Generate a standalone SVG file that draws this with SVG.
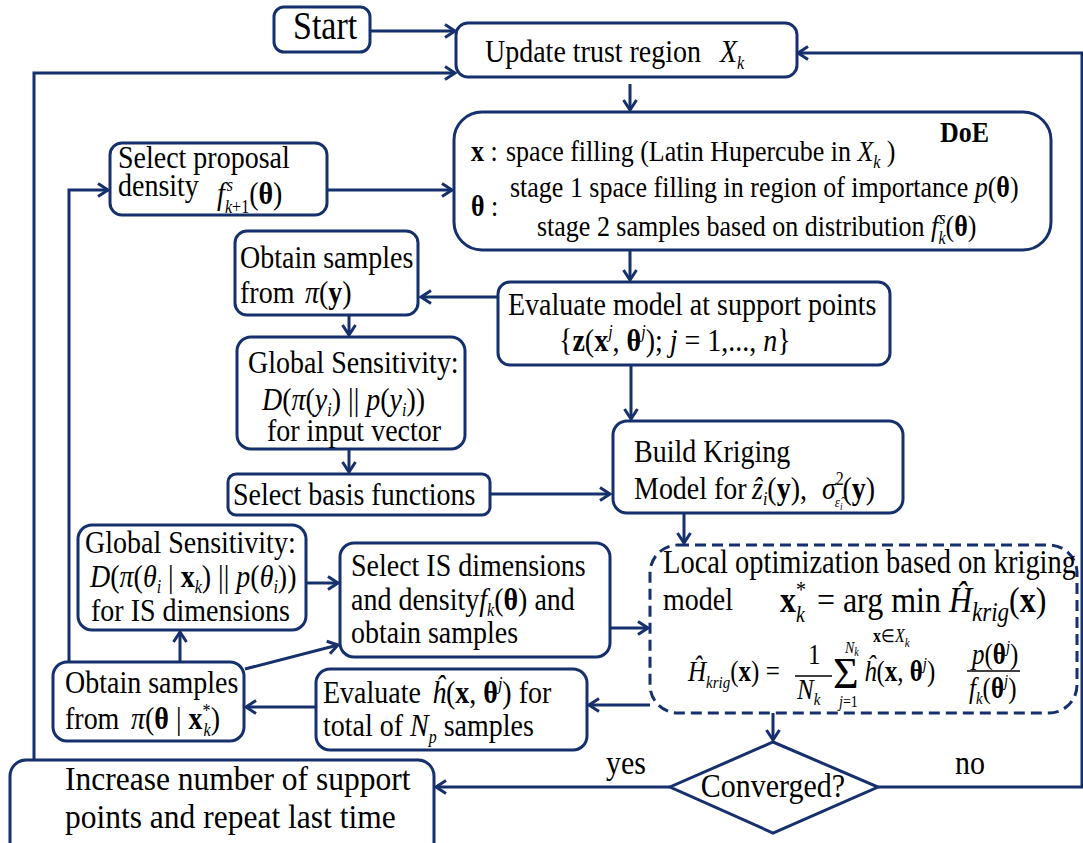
<svg xmlns="http://www.w3.org/2000/svg" width="1083" height="843" viewBox="0 0 1083 843">
<style>
.bx{fill:#fff;stroke:#15306d;stroke-width:3}
.cn{fill:none;stroke:#15306d;stroke-width:3}
text{font-family:"Liberation Serif","Times New Roman",serif;font-size:28px;fill:#000}
.i{font-style:italic}
.b{font-weight:bold}
.s{font-size:16px}
.d{font-size:26px}
</style>
<defs>
<marker id="ah" markerWidth="16" markerHeight="16" refX="13" refY="8" orient="auto" markerUnits="userSpaceOnUse">
<path d="M3,1.5 L13,8 L3,14.5" fill="none" stroke="#15306d" stroke-width="3"/>
</marker>
</defs>
<rect width="1083" height="843" fill="#fff"/>
<g id="connectors" class="cn" marker-end="url(#ah)">
<path d="M370,31 H455"/>
<path d="M34,760 V73 H455"/>
<path d="M878,787 H1082 V53 H798"/>
<path d="M630,84 V110"/>
<path d="M327,190 H452"/>
<path d="M69,662 V190 H108"/>
<path d="M630,250 V280"/>
<path d="M497,297 H421"/>
<path d="M349,315 V335"/>
<path d="M349,449 V472"/>
<path d="M490,494 H610"/>
<path d="M631,365 V419"/>
<path d="M684,513 V543"/>
<path d="M306,583 H338"/>
<path d="M610,628 H648"/>
<path d="M650,705 H589"/>
<path d="M316,707 H246"/>
<path d="M180,662 V632"/>
<path d="M245,669 L338,645"/>
<path d="M773,713 V740"/>
<path d="M670,787 H436"/>
</g>
<g id="start"><rect class="bx" x="274" y="7" width="96" height="45" rx="10"/>
<text x="293" y="39" transform="matrix(1 0 0 1.15 0 -5.85)" style="font-size:34px">Start</text></g>
<g id="update"><rect class="bx" x="456" y="23" width="341" height="54" rx="12"/>
<text x="485" y="62" transform="matrix(1 0 0 1.15 0 -9.3)">Update trust region <tspan x="720" class="i">X</tspan><tspan class="i s" dy="6">k</tspan></text></g>
<g id="doe"><rect class="bx" x="454" y="112" width="597" height="138" rx="28"/>
<text x="940" y="142" transform="matrix(1 0 0 1.15 0 -21.3)" class="d b">DoE</text>
<text x="471" y="161" transform="matrix(1 0 0 1.15 0 -24.15)" class="d"><tspan class="b">x</tspan> :<tspan x="506">space filling (Latin Hupercube in </tspan><tspan class="i">X</tspan><tspan class="i s" dy="6">k</tspan><tspan dy="-6"> )</tspan></text>
<text x="510" y="197" transform="matrix(1 0 0 1.15 0 -29.55)" class="d">stage 1 space filling in region of importance <tspan class="i">p</tspan>(<tspan class="b">θ</tspan>)</text>
<text x="471" y="216" transform="matrix(1 0 0 1.15 0 -32.4)" class="d"><tspan class="b">θ</tspan> :</text>
<text x="537" y="236" transform="matrix(1 0 0 1.15 0 -35.4)" class="d">stage 2 samples based on distribution <tspan class="i">f</tspan><tspan class="i s" dx="1" dy="-10">s</tspan><tspan class="i s" dx="-7" dy="17">k</tspan><tspan dy="-7">(</tspan><tspan class="b">θ</tspan>)</text></g>
<g id="selprop"><rect class="bx" x="110" y="143" width="217" height="72" rx="12"/>
<text x="118" y="168" transform="matrix(1 0 0 1.15 0 -25.2)">Select proposal</text>
<text x="118" y="196" transform="matrix(1 0 0 1.15 0 -29.4)">density <tspan x="217" y="203" class="i">f</tspan><tspan class="i s" dx="2" dy="-11">s</tspan><tspan class="s" dx="-8" dy="19"><tspan class="i">k</tspan>+1</tspan><tspan dy="-8">(</tspan><tspan class="b">θ</tspan>)</text></g>
<g id="obty"><rect class="bx" x="235" y="231" width="183" height="84" rx="12"/>
<text x="240" y="268" transform="matrix(1 0 0 1.15 0 -40.2)">Obtain samples</text>
<text x="240" y="303" transform="matrix(1 0 0 1.15 0 -45.45)">from <tspan x="305" class="i">π</tspan>(<tspan class="b">y</tspan>)</text></g>
<g id="evalmodel"><rect class="bx" x="498" y="282" width="392" height="83" rx="12"/>
<text x="508" y="315" transform="matrix(1 0 0 1.15 0 -47.25)">Evaluate model at support points</text>
<text x="559" y="351" transform="matrix(1 0 0 1.15 0 -52.65)">{<tspan class="b">z</tspan>(<tspan class="b">x</tspan><tspan class="i s" dy="-11">j</tspan><tspan dy="11">, </tspan><tspan class="b">θ</tspan><tspan class="i s" dy="-11">j</tspan><tspan dy="11">); </tspan><tspan class="i">j</tspan> = 1,..., <tspan class="i">n</tspan>}</text></g>
<g id="gsy"><rect class="bx" x="237" y="337" width="228" height="112" rx="14"/>
<text x="248" y="373" transform="matrix(1 0 0 1.15 0 -55.95)">Global Sensitivity:</text>
<text x="262" y="410" transform="matrix(1 0 0 1.15 0 -61.5)"><tspan class="i">D</tspan>(<tspan class="i">π</tspan>(<tspan class="i">y</tspan><tspan class="i s" dy="5">i</tspan><tspan dy="-5">) || </tspan><tspan class="i">p</tspan>(<tspan class="i">y</tspan><tspan class="i s" dy="5">i</tspan><tspan dy="-5">))</tspan></text>
<text x="267" y="441" transform="matrix(1 0 0 1.15 0 -66.15)">for input vector</text></g>
<g id="selbasis"><rect class="bx" x="228" y="474" width="262" height="41" rx="8"/>
<text x="233" y="505" transform="matrix(1 0 0 1.15 0 -75.75)">Select basis functions</text></g>
<g id="build"><rect class="bx" x="613" y="421" width="290" height="92" rx="14"/>
<text x="634" y="462" transform="matrix(1 0 0 1.15 0 -69.3)">Build Kriging</text>
<text x="634" y="499" transform="matrix(1 0 0 1.15 0 -74.85)">Model for <tspan x="752" class="i">ẑ</tspan><tspan class="i s" dy="5">i</tspan><tspan dy="-5">(</tspan><tspan class="b">y</tspan>),<tspan x="822" class="i">σ</tspan><tspan class="s" dy="-12">2</tspan><tspan class="i" style="font-size:13px" dx="-9" dy="19">ε̂</tspan><tspan class="i" style="font-size:9px" dy="3">i</tspan><tspan dy="-10">(</tspan><tspan class="b">y</tspan>)</text></g>
<g id="gsis"><rect class="bx" x="78" y="525" width="228" height="105" rx="14"/>
<text x="85" y="553" transform="matrix(1 0 0 1.15 0 -82.95)">Global Sensitivity:</text>
<text x="90" y="587" transform="matrix(1 0 0 1.15 0 -88.05)"><tspan class="i">D</tspan>(<tspan class="i">π</tspan>(<tspan class="i">θ</tspan><tspan class="i s" dy="5">i</tspan><tspan dy="-5"> | </tspan><tspan class="b">x</tspan><tspan class="i s" dy="5">k</tspan><tspan dy="-5">) || </tspan><tspan class="i">p</tspan>(<tspan class="i">θ</tspan><tspan class="i s" dy="5">i</tspan><tspan dy="-5">))</tspan></text>
<text x="91" y="621" transform="matrix(1 0 0 1.15 0 -93.15)">for IS dimensions</text></g>
<g id="selis"><rect class="bx" x="340" y="543" width="270" height="114" rx="14"/>
<text x="351" y="576" transform="matrix(1 0 0 1.15 0 -86.4)">Select IS dimensions</text>
<text x="351" y="610" transform="matrix(1 0 0 1.15 0 -91.5)">and density<tspan class="i">f</tspan><tspan class="i s" dy="5">k</tspan><tspan dy="-5">(</tspan><tspan class="b">θ</tspan>) and</text>
<text x="351" y="643" transform="matrix(1 0 0 1.15 0 -96.45)">obtain samples</text></g>
<g id="localopt"><rect class="bx" x="650" y="545" width="427" height="168" rx="28" stroke-dasharray="11 6"/>
<text x="663" y="573" transform="matrix(1 0 0 1.15 0 -85.95)" style="font-size:28.5px">Local optimization based on kriging</text>
<text x="663" y="610" transform="matrix(1 0 0 1.15 0 -91.5)">model</text>
<text x="780" y="612" transform="matrix(1 0 0 1.15 0 -91.8)" style="font-size:32px"><tspan class="b">x</tspan><tspan style="font-size:20px" dy="-13">*</tspan><tspan class="i" style="font-size:20px" dx="-10" dy="22">k</tspan><tspan dx="12" dy="-9">= arg min </tspan><tspan class="i">Ĥ</tspan><tspan class="i" style="font-size:23px" dy="8">krig</tspan><tspan dy="-8">(</tspan><tspan class="b">x</tspan>)</text>
<text x="873" y="642" transform="matrix(1 0 0 1.15 0 -96.3)" style="font-size:16px"><tspan class="b">x</tspan>∈<tspan class="i">X</tspan><tspan class="i" style="font-size:11px" dy="4">k</tspan></text>
<text x="688" y="681" transform="matrix(1 0 0 1.15 0 -102.15)" style="font-size:25px"><tspan class="i">Ĥ</tspan><tspan class="i" style="font-size:15px" dy="6">krig</tspan><tspan dy="-6">(</tspan><tspan class="b">x</tspan>) =</text>
<text x="808" y="664" transform="matrix(1 0 0 1.15 0 -99.6)" style="font-size:25px">1</text>
<path d="M795,676 H832" stroke="#000" stroke-width="1.5"/>
<text x="797" y="699" transform="matrix(1 0 0 1.15 0 -104.85)" style="font-size:25px"><tspan class="i">N</tspan><tspan class="i" style="font-size:15px" dy="5">k</tspan></text>
<text x="833" y="688" style="font-size:44px">Σ</text>
<text x="845" y="653" transform="matrix(1 0 0 1.15 0 -97.95)" style="font-size:14px"><tspan class="i">N</tspan><tspan class="i" style="font-size:10px" dy="3">k</tspan></text>
<text x="839" y="707" transform="matrix(1 0 0 1.15 0 -106.05)" style="font-size:14px"><tspan class="i">j</tspan>=1</text>
<text x="864" y="681" transform="matrix(1 0 0 1.15 0 -102.15)" style="font-size:25px"><tspan class="i">ĥ</tspan>(<tspan class="b">x</tspan>, <tspan class="b">θ</tspan><tspan class="i" style="font-size:15px" dy="-10">j</tspan><tspan dy="10">)</tspan></text>
<text x="972" y="664" transform="matrix(1 0 0 1.15 0 -99.6)" style="font-size:25px"><tspan class="i">p</tspan>(<tspan class="b">θ</tspan><tspan class="i" style="font-size:15px" dy="-10">j</tspan><tspan dy="10">)</tspan></text>
<path d="M967,671 H1020" stroke="#000" stroke-width="1.5"/>
<text x="969" y="698" transform="matrix(1 0 0 1.15 0 -104.7)" style="font-size:25px"><tspan class="i">f</tspan><tspan class="i" style="font-size:15px" dy="5">k</tspan><tspan dy="-5">(</tspan><tspan class="b">θ</tspan><tspan class="i" style="font-size:15px" dy="-10">j</tspan><tspan dy="10">)</tspan></text></g>
<g id="obttheta"><rect class="bx" x="53" y="662" width="191" height="79" rx="14"/>
<text x="65" y="693" transform="matrix(1 0 0 1.15 0 -103.95)">Obtain samples</text>
<text x="65" y="729" transform="matrix(1 0 0 1.15 0 -109.35)">from <tspan x="131" class="i">π</tspan>(<tspan class="b">θ</tspan> | <tspan class="b">x</tspan><tspan class="s" dy="-10">*</tspan><tspan class="i s" dx="-7" dy="16">k</tspan><tspan dy="-6">)</tspan></text></g>
<g id="evalh"><rect class="bx" x="316" y="669" width="271" height="81" rx="14"/>
<text x="323" y="703" transform="matrix(1 0 0 1.15 0 -105.45)">Evaluate <tspan x="432" class="i">ĥ</tspan>(<tspan class="b">x</tspan>, <tspan class="b">θ</tspan><tspan class="i s" dy="-11">j</tspan><tspan dy="11">) for</tspan></text>
<text x="323" y="736" transform="matrix(1 0 0 1.15 0 -110.4)">total of <tspan class="i">N</tspan><tspan class="i s" dy="6">p</tspan><tspan dy="-6"> samples</tspan></text></g>
<g id="converged"><polygon class="bx" points="773,742 878,787 773,833 670,787"/>
<text x="773" y="797" transform="matrix(1 0 0 1.15 0 -119.55)" text-anchor="middle" style="font-size:30px">Converged?</text></g>
<text x="606" y="774" transform="matrix(1 0 0 1.15 0 -116.1)" style="font-size:30px">yes</text>
<text x="955" y="774" transform="matrix(1 0 0 1.15 0 -116.1)" style="font-size:30px">no</text>
<g id="increase"><rect class="bx" x="10" y="760" width="424" height="100" rx="16"/>
<text x="65" y="790" transform="matrix(1 0 0 1.1 0 -79)" style="font-size:31.5px">Increase number of support</text>
<text x="65" y="828" transform="matrix(1 0 0 1.1 0 -82.8)" style="font-size:31.5px">points and repeat last time</text></g>
</svg>
